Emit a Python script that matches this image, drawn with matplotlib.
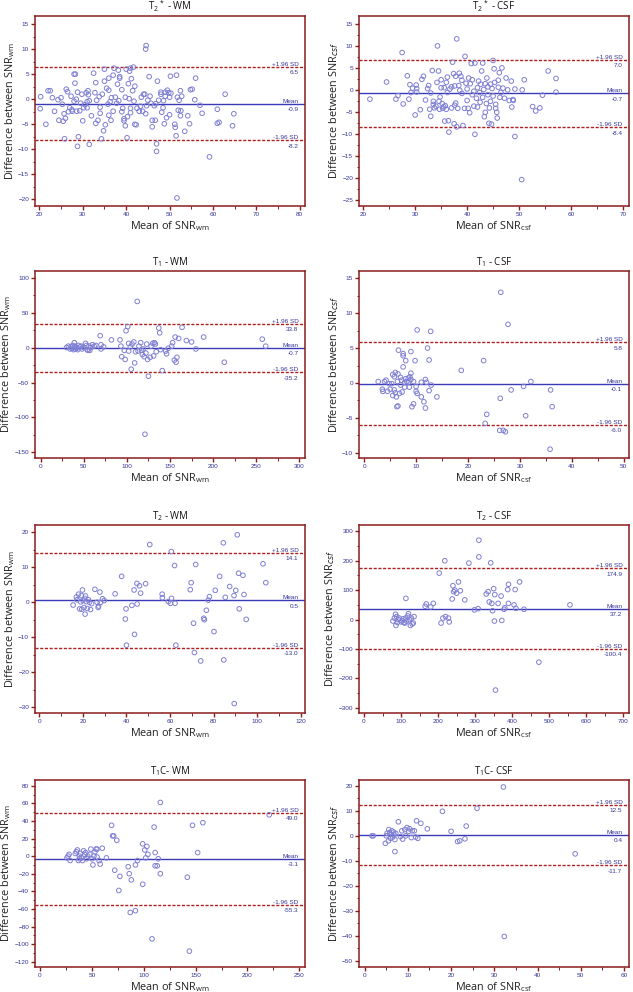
import numpy as np
import matplotlib
matplotlib.use("Agg")
from matplotlib import pyplot as plt
from matplotlib import transforms
from matplotlib.ticker import MultipleLocator, AutoMinorLocator

plt.rcParams['font.family'] = ['Open Sans', 'DejaVu Sans']
plt.rcParams['mathtext.default'] = 'regular'

### data (mean of SNR, difference of SNR)

t2s_wm_x = [20.3, 20.2, 21.5, 22, 22.5, 23, 23.5, 24.3, 24.5, 25, 25.3, 25.5, 25.7, 25.8, 26, 26.2, 26.5, 26.7,
            27, 27.3, 27.5, 27.6, 28, 28, 28.2, 28.3, 28.5, 28.6, 28.8, 28.8, 29, 29.3, 29.5, 29.8, 30, 30.2,
            30.5, 30.8, 31, 31, 31.2, 31.3, 31.5, 31.5, 32, 32.5, 32.8, 33, 33, 33.2, 33.5, 33.8, 34, 34, 34.3,
            34.5, 34.8, 35, 35, 35.2, 35.5, 35.8, 36, 36, 36, 36.3, 36.5, 36.6, 37, 37, 37.2, 37.5, 37.8, 38,
            38.2, 38.3, 38.5, 38.5, 39, 39, 39.2, 39.5, 39.5, 39.8, 39.8, 40, 40.2, 40.3, 40.5, 40.7, 40.8, 41,
            41, 41, 41.2, 41.5, 41.7, 41.8, 42, 42, 42.3, 42.5, 43, 43.3, 43.5, 43.8, 44, 44.3, 44.5, 44.5,
            44.6, 44.7, 45, 45.3, 45.5, 45.7, 46, 46, 46.5, 46.7, 46.8, 47, 47, 47.2, 47.5, 48, 48, 48.2, 48.5,
            48.6, 48.8, 49, 49, 49.3, 49.5, 49.8, 50, 50, 50.2, 50.3, 51.2, 51.3, 51.5, 51.6, 52, 51.8, 51.7,
            52.2, 52.5, 52.5, 52.6, 52.8, 53.5, 54.2, 54.6, 54.8, 55.2, 55.8, 56, 57, 57.5, 59.2, 61, 61, 61.4,
            62.8, 64.5, 64.8]
t2s_wm_y = [0.5, -1.9, -5.0, 1.7, 1.7, 0.3, -2.4, -0.1, -4.2, 0.3, -1.0, -4.4, -2.9, -7.9, -3.8, 2.0, 1.5, -2.5,
            -1.7, 0.6, -2.1, -2.4, -0.4, 5.0, 3.2, 5.0, 0.0, -2.4, 1.4, -9.4, -7.5, -2.3, -0.8, 1.0, -4.3, -1.7,
            -1.1, 1.3, -0.5, -1.7, 1.7, 0.9, -9.0, -0.3, -3.3, 5.2, 1.3, -4.8, 3.3, -0.2, -4.2, 0.5, -1.6, -2.8,
            -7.9, 1.0, -6.3, 3.6, 6.0, -5.1, 2.2, -1.0, 4.2, 1.8, -3.2, -0.5, -4.2, 0.3, -2.4, 4.8, 6.2, 0.4,
            -0.8, 3.0, 5.8, -0.3, 4.5, 4.2, -2.5, 1.9, -1.8, -3.9, -4.3, -5.3, 0.4, 6.0, -7.7, -3.5, 3.1, 0.1,
            5.6, 6.2, -1.8, -2.7, 4.1, 1.7, 6.4, -0.4, -5.0, 2.6, -5.1, -1.8, -2.4, -1.4, 0.4, -2.4, 1.0, 1.0,
            -2.9, 10.0, 10.7, -1.3, -0.2, 4.5, 0.6, -0.8, -5.5, -4.2, -1.3, -4.2, -0.9, -8.9, -10.4, 3.6, -0.2,
            1.4, 1.0, -2.6, -1.7, -0.3, -4.9, 0.6, 1.4, -3.7, 1.8, 1.3, 0.4, -3.1, 4.6, 1.2, -5.0, -5.6, -7.3,
            4.8, -2.2, 0.4, -19.7, -0.2, 1.7, -3.3, -2.3, 0.6, -6.4, -3.3, -4.9, 1.9, 2.0, -0.1, 4.2, -1.2,
            -2.8, -11.5, -4.8, -2.0, -4.6, 1.0, -5.3, -2.9]
t2s_wm_lim = [6.5, -0.9, -8.2]

t2s_csf_x = [21.3, 24.5, 26.3, 26.7, 27.5, 27.7, 28.5, 28.8, 29, 29.2, 29.5, 30, 30.2, 30.3, 30.3, 31, 31.3, 31.6,
             32, 32.4, 32.6, 32.8, 33, 33, 33.3, 33.5, 33.5, 33.7, 34, 34.2, 34.3, 34.5, 34.6, 34.7, 34.8, 35,
             35, 35.2, 35.3, 35.5, 35.6, 35.7, 35.8, 36, 36, 36.2, 36.2, 36.4, 36.5, 36.7, 37, 37, 37.2, 37.4,
             37.5, 37.6, 37.6, 37.8, 37.8, 38, 38, 38.2, 38.4, 38.5, 38.6, 38.8, 39, 39, 39.2, 39.5, 39.6, 39.8,
             40, 40, 40.2, 40.3, 40.5, 40.6, 40.8, 41, 41, 41.3, 41.3, 41.5, 41.5, 41.8, 42, 42, 42.2, 42.4,
             42.5, 42.6, 42.8, 43, 43, 43.2, 43.3, 43.5, 43.5, 43.7, 43.8, 44, 44, 44.2, 44.3, 44.5, 44.5, 44.7,
             44.8, 45, 45, 45.2, 45.3, 45.5, 45.5, 45.7, 45.8, 46, 46, 46.2, 46.3, 46.5, 46.7, 46.9, 47.5,
             47.2, 48.1, 48.5, 48.6, 48.8, 48.9, 47.8, 49.2, 49.2, 50.6, 51.0, 50.5, 52.6, 53.2, 54.0, 54.5,
             55.6, 57.1, 57.1]
t2s_csf_y = [-2.0, 1.9, -2.0, -1.2, 8.6, -3.1, 3.3, -2.0, 1.3, -0.5, 0.5, -5.6, 1.2, 0.4, -0.4, -4.4, 2.5, 3.2,
             -2.2, 0.4, 1.1, -4.3, -5.9, -0.6, 4.5, -2.5, -3.2, -4.0, -3.6, 1.8, 10.1, 4.4, -2.5, -4.3, -1.5, 2.4,
             0.6, -3.0, -4.1, -3.7, 0.6, -7.0, -3.5, -4.3, 1.8, -0.5, 3.0, -6.9, -9.5, 0.3, -4.0, 0.8, 6.4, 3.8,
             -7.6, 1.0, -3.4, -2.9, 3.2, 11.7, -8.3, -4.1, 1.1, 3.9, 0.0, 3.2, -0.7, 2.3, -8.0, -4.1, 7.7, 1.6,
             -2.3, 0.3, -4.1, 2.8, -5.1, 1.5, 6.1, -1.0, 2.4, -0.2, -3.6, 6.2, -10.0, -1.8, 0.6, -3.8, 2.1, -0.5,
             -2.7, 1.4, 4.4, -1.6, 6.2, 0.2, -6.0, 1.5, -5.0, -3.0, 2.8, -1.0, 0.8, -7.5, -4.0, -2.5, 1.4, -7.7,
             0.4, 6.8, -1.3, 4.9, 1.8, -3.2, -4.1, -5.0, -6.3, 0.7, 2.3, 4.0, -1.6, -0.5, 5.1, 0.5, 2.8, -1.8,
             -2.3, 2.1, -3.8, -2.1, -2.3, 0.1, 0.3, -10.5, 0.1, 2.4, -20.3, -3.7, -4.7, -4.0, -1.1, 4.4, 2.7, -0.4]
t2s_csf_lim = [7.0, -0.7, -8.4]

t1_wm_x = [30, 32, 34, 35, 36, 37, 38, 39, 40, 40, 41, 42, 43, 44, 46, 47, 48, 50, 52, 53, 54, 55, 56, 57, 58, 60,
           62, 64, 69, 70, 70, 73, 82, 92, 93, 94, 97, 98, 99, 101, 102, 102, 104, 105, 106, 108, 109, 110, 112,
           113, 114, 116, 117, 118, 119, 120, 121, 122, 123, 124, 125, 127, 128, 130, 131, 132, 133, 134, 137, 138,
           139, 141, 145, 146, 148, 152, 153, 155, 156, 157, 158, 160, 164, 169, 175, 180, 189, 213, 257, 261]
t1_wm_y = [0, 2, -2, 1, -1, 3, -3, 7, 2, -2, 0, -1, -3, 3, 1, 2, -2, 0, 6, 3, -3, -4, 2, -4, 0, 4, 2, 3, 17, 4, -2,
           1, 11, 11, 2, -13, -4, -17, 24, 30, 6, -5, 1, -31, 5, 8, -22, -6, 66, -5, 2, 7, -4, -10, -2, -13, -124,
           -8, 5, -17, -41, -14, 2, 6, -12, 7, 5, -6, 28, 21, -3, -33, -5, -9, -1, 2, 7, -18, 15, -21, -14, 13,
           29, 10, 8, -2, 15, -21, 12, 2]
t1_wm_lim = [33.8, -0.7, -35.2]

t1_csf_x = [2.7, 3.5, 3.6, 3.9, 4.2, 4.5, 4.8, 5, 5.3, 5.5, 5.5, 5.8, 5.8, 6, 6, 6.2, 6.3, 6.4, 6.5, 6.5, 6.6, 6.8,
            7, 7, 7.2, 7.3, 7.5, 7.5, 7.5, 7.8, 7.8, 8, 8, 8.2, 8.5, 8.5, 8.7, 8.8, 9, 9, 9, 9.2, 9.5, 9.5, 9.8,
            10, 10, 10.2, 10.2, 11, 11, 11.5, 11.8, 11.8, 12, 12.2, 12.5, 12.5, 12.8, 12.9, 14, 18.7, 23, 23.3,
            23.6, 26.1, 26.2, 26.3, 26.8, 27.2, 27.7, 28.3, 30.7, 31.1, 32.1, 35.8, 35.9, 36.2]
t1_csf_y = [0.2, -0.9, -1.2, 0.2, 0.4, -1.2, -0.1, -0.9, -0.1, 1.2, -1.8, -1.0, 0.9, 1.5, -1.4, -2.0, -3.4, 0.2,
            1.3, -3.3, 4.7, -1.5, 0.8, -0.3, 0.4, -1.3, 4.2, 3.9, 2.3, 0.1, -0.6, 3.2, 0.6, 0.2, 0.7, 0.1, -0.6,
            0.9, 1.4, 4.5, 0.5, -3.4, -3.0, 0.2, 3.2, -1.2, -0.5, 7.6, -1.5, 0.1, -2.0, -2.7, -3.6, 0.5, 0.1, 5.0,
            -1.1, 3.3, 7.4, -0.3, -2.0, 1.8, 3.2, -5.8, -4.5, -6.8, -2.2, 13.0, -6.8, -7.0, 8.4, -1.0, -0.5, -4.7,
            0.2, -9.5, -1.0, -3.4]
t1_csf_lim = [5.8, -0.1, -6.0]

t2_wm_x = [15.5, 17, 17.3, 18, 18.5, 19, 19.3, 19.5, 19.8, 20, 20.5, 20.8, 21, 21.2, 21.5, 22, 22.5, 23, 23.5, 24,
           25.5, 26.5, 27, 27.2, 27.8, 28, 29, 29.8, 34.8, 37.8, 39.5, 39.8, 40, 42.5, 43.5, 43.7, 44.8, 44.9, 46,
           46.5, 48.8, 50.7, 56.4, 56.5, 59.2, 60.2, 60.6, 60.7, 62.1, 62.3, 62.7, 69.3, 69.7, 70.8, 71.2, 71.8,
           74.1, 75.5, 75.8, 76.7, 77.6, 78.1, 80.2, 80.8, 82.8, 84.5, 84.7, 85.4, 87.4, 89.4, 89.5, 90.2, 90.9,
           91.5, 91.8, 93.5, 94, 95, 102.7, 104]
t2_wm_y = [-0.8, 1.5, 0.7, 2.3, -1.9, 0.1, 1.9, -2.0, 3.5, 0.5, -1.5, 1.1, -3.4, 1.8, 0.2, -1.8, 0.7, 0.0, -2.1,
           -0.4, 3.7, 0.0, -1.5, -1.1, 2.9, -0.1, 1.0, 0.5, 2.4, 7.4, -4.8, -1.9, -12.3, -0.9, 3.5, -9.2, 5.4,
           -0.5, 4.7, 2.6, 5.3, 16.5, 2.3, 1.3, 0.2, -0.3, 14.5, 1.1, 10.5, -0.3, -12.3, 3.6, 5.6, -6.0, -14.4,
           10.8, -16.8, -4.6, -5.0, -2.3, 0.6, 1.6, -8.4, 3.4, 7.4, 17.0, -16.5, 1.4, 4.5, 1.9, -29.0, 3.4, 19.3,
           8.3, -1.9, 7.7, 2.2, -4.9, 11.0, 5.6]
t2_wm_lim = [14.1, 0.5, -13.0]

t2_csf_x = [78, 82, 85, 86, 88, 90, 92, 95, 100, 103, 105, 108, 110, 112, 113, 115, 118, 120, 122, 125, 128, 130,
            133, 135, 165, 168, 180, 187, 203, 208, 213, 218, 220, 228, 230, 238, 240, 242, 245, 250, 255, 260, 272,
            283, 298, 308, 310, 310, 330, 335, 338, 342, 345, 347, 350, 352, 353, 355, 362, 370, 372, 378, 380, 388,
            390, 390, 405, 408, 410, 420, 432, 472, 556]
t2_csf_y = [-5, 5, 18, -20, 10, -10, 0, 5, -8, -5, 2, -10, -12, 5, 72, -5, 12, 20, 0, -20, 5, -15, -12, 10, 45, 53,
            43, 55, 158, -12, 5, 200, 10, 5, -8, 70, 115, 95, 100, 90, 128, 98, 67, 192, 33, 37, 270, 213, 87, 95,
            60, 193, 55, 30, 105, -5, 85, -240, 55, 80, -3, 35, 40, 102, 120, 55, 50, 102, 38, 128, 35, -145, 50]
t2_csf_lim = [174.9, 37.2, -100.4]

t1c_wm_x = [26, 27, 28, 29, 34, 35, 36, 37, 38, 38, 39, 40, 41, 42, 43, 44, 45, 46, 48, 49, 50, 51, 52, 53, 54, 55,
            55, 57, 58, 60, 64, 69, 70, 71, 72, 74, 76, 77, 85, 86, 87, 88, 92, 92, 94, 99, 99, 101, 102, 103, 104,
            108, 110, 111, 111, 113, 114, 116, 116, 142, 144, 147, 152, 157, 221]
t1c_wm_y = [-2, 0, 2, -5, 3, 5, 7, -5, 0, -3, 3, -2, -5, 6, 2, 4, -3, 0, 2, 8, -3, -10, 0, 5, 8, 8, -1, -5, -9, 9,
            -2, 35, 23, 23, -16, 18, -39, -23, -12, -20, -64, -27, -10, -62, -5, 14, -32, 7, -2, 11, 2, -94, 33,
            -11, 4, -11, -3, 61, -20, -24, -108, 35, 4, 38, 47]
t1c_wm_lim = [49.0, -3.1, -55.3]

t1c_csf_x = [1.7, 2, 4.8, 5, 5.2, 5.5, 5.6, 5.8, 6, 6, 6.3, 6.5, 6.7, 6.8, 7, 7, 7.2, 7.8, 8.3, 8.6, 8.8, 9.3, 9.5,
             9.8, 10.2, 10.4, 10.8, 11, 11.5, 11.8, 12, 12.3, 13, 14.5, 18, 20, 21.5, 22, 23.2, 23.5, 26, 32.1,
             32.3, 48.7]
t1c_csf_y = [0, 0, -3, 0, 1, -2, 2.5, 1.3, -1, 0.5, 2, -0.5, 1.5, 0.5, -1.5, -6.3, 1, 5.6, -0.3, 2, -1.3, 2.5, 0,
             3.3, 1.8, 2.8, -0.7, 2, 2, -0.5, 6, -1, 5, 2.8, 9.8, 1.8, -2.3, -2, -1.2, 3.9, 11, 19.5, -40.2, -7.2]
t1c_csf_lim = [12.5, 0.4, -11.7]

titles = [r"T$_2$$^*$ - WM", r"T$_2$$^*$ - CSF", r"T$_1$ - WM", r"T$_1$ - CSF",
          r"T$_2$ - WM", r"T$_2$ - CSF", r"T$_1$C- WM", r"T$_1$C- CSF"]

### layout / style

FRAME = '#8c1c1c'
DASH = '#b01e1e'
MEANC = '#3a3ab8'
TXT = '#34349a'
MARK = '#7f7fd4'

fig = plt.figure(figsize=(6.33, 9.92), dpi=100)
W, H = 633.0, 992.0

cols = [(35, 305), (359, 629)]
rows = [(16, 206), (271, 458), (525, 713), (780, 967)]

panels = [
    (t2s_wm_x, t2s_wm_y, t2s_wm_lim, (19, 81.2), 10, (-21.3, 16.6), 5, 'wm'),
    (t2s_csf_x, t2s_csf_y, t2s_csf_lim, (19.2, 71.15), 10, (-26.3, 16.9), 5, 'csf'),
    (t1_wm_x, t1_wm_y, t1_wm_lim, (-6.6, 306.6), 50, (-158, 109.5), 50, 'wm'),
    (t1_csf_x, t1_csf_y, t1_csf_lim, (-1, 51), 10, (-10.76, 16.05), 5, 'csf'),
    (t2_wm_x, t2_wm_y, t2_wm_lim, (-2, 122), 20, (-31.7, 22.1), 10, 'wm'),
    (t2_csf_x, t2_csf_y, t2_csf_lim, (-13.6, 715.4), 100, (-318, 321.7), 100, 'csf'),
    (t1c_wm_x, t1c_wm_y, t1c_wm_lim, (-4.85, 255.5), 50, (-126, 86.5), 20, 'wm'),
    (t1c_csf_x, t1c_csf_y, t1c_csf_lim, (-1.3, 61.15), 10, (-52.4, 22.3), 10, 'csf'),
]

for i, (xs, ys, lim, xl, xstep, yl, ystep, tissue) in enumerate(panels):
    r, c = divmod(i, 2)
    x0, x1 = cols[c]
    y0, y1 = rows[r]
    ax = fig.add_axes([x0 / W, 1 - y1 / H, (x1 - x0) / W, (y1 - y0) / H])

    ax.scatter(xs, ys, s=11, facecolors='none', edgecolors=MARK, linewidths=0.7, zorder=3)

    upper, mean, lower = lim
    ax.axhline(upper, color=DASH, ls=(0, (2.2, 1.2)), lw=1.0, zorder=2)
    ax.axhline(lower, color=DASH, ls=(0, (2.2, 1.2)), lw=1.0, zorder=2)
    ax.axhline(mean, color=MEANC, lw=1.0, zorder=2)

    tr = transforms.blended_transform_factory(ax.transAxes, ax.transData)
    for val, name in [(upper, '+1.96 SD'), (mean, 'Mean'), (lower, '-1.96 SD')]:
        ax.text(0.975, val, name, transform=tr, ha='right', va='bottom', fontsize=4.6,
                color=TXT, family='Liberation Sans')
        ax.text(0.975, val, '\n%.1f' % val, transform=tr, ha='right', va='top', fontsize=4.6,
                color=TXT, family='Liberation Sans', linespacing=0.6)

    ax.set_xlim(*xl)
    ax.set_ylim(*yl)
    ax.xaxis.set_major_locator(MultipleLocator(xstep))
    ax.yaxis.set_major_locator(MultipleLocator(ystep))
    ax.xaxis.set_minor_locator(AutoMinorLocator(2))
    ax.yaxis.set_minor_locator(AutoMinorLocator(2))

    for sp in ax.spines.values():
        sp.set_color(FRAME)
        sp.set_linewidth(1.1)
    ax.tick_params(which='major', length=3, width=1.0, color=FRAME, labelcolor=TXT,
                   labelsize=4.6, pad=1.2)
    ax.tick_params(which='minor', length=1.8, width=0.7, color=FRAME)
    for lab in ax.get_xticklabels() + ax.get_yticklabels():
        lab.set_family('Liberation Sans')

    if tissue == 'wm':
        ylab = r"Difference between SNR$_{wm}$"
    else:
        ylab = r"Difference between SNR$_{\mathit{csf}}$"
    ax.set_ylabel(ylab, fontsize=7.8, color='#222222', labelpad=1.0)
    ax.set_xlabel("Mean of SNR$_{%s}$" % tissue, fontsize=7.8, color='#222222', labelpad=1.5)
    ax.set_title(titles[i], fontsize=7, color='#111111', pad=4)

plt.savefig('out.png', dpi=100)
